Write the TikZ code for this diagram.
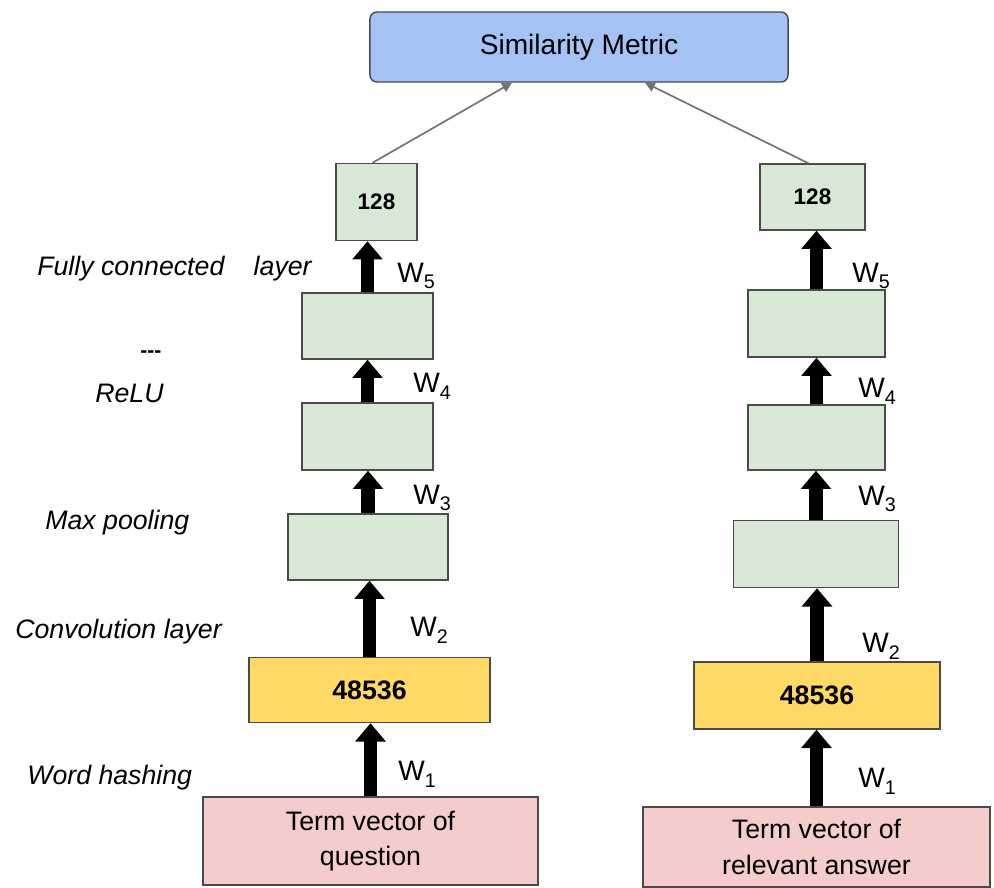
\documentclass[tikz,border=0pt]{standalone}
\usepackage{fontspec}
\setmainfont{Liberation Sans}
\usepackage{tikz}
\usetikzlibrary{arrows.meta}

\definecolor{simblue}{HTML}{A4C2F4}
\definecolor{laygreen}{HTML}{D7E9D5}
\definecolor{hashyellow}{HTML}{FFD966}
\definecolor{termpink}{HTML}{F4CCCC}
\definecolor{boxline}{HTML}{4A4A4A}

\newcommand{\wsub}[1]{W\raisebox{-0.45ex}{\fontsize{14}{14}\selectfont #1}}

\begin{document}
\begin{tikzpicture}[x=0.025cm,y=-0.025cm,
		box/.style={draw=boxline,line width=1pt,inner sep=0pt,align=center,font=\fontsize{19}{25}\selectfont},
		layerbox/.style={box,fill=laygreen},
		fat/.style={line width=9.5pt,-{Triangle[width=21pt,length=13pt]}},
		thin/.style={draw=black!55,line width=1.2pt,-{Triangle[width=7pt,length=7pt]}},
		wlab/.style={anchor=west,inner sep=0pt,font=\fontsize{20}{22}\selectfont},
		side/.style={anchor=west,inner sep=0pt,font=\fontsize{19}{22}\selectfont\itshape}]
		\useasboundingbox (0,0) rectangle (994,888);
		\node[box,fill=simblue,rounded corners=5pt,minimum width=10.45cm,minimum height=1.75cm,font=\fontsize{20}{24}\selectfont] (sim) at (579,47) {Similarity Metric};

		\node[box,fill=termpink,minimum width=8.375cm,minimum height=2.2cm] (qterm) at (370.5,841) {Term vector of\\question};
		\node[box,fill=hashyellow,minimum width=6.025cm,minimum height=1.625cm,font=\fontsize{19}{22}\selectfont\bfseries] (qhash) at (369.5,690) {48536};
		\node[layerbox,minimum width=4cm,minimum height=1.65cm] (qconv) at (368,547) {};
		\node[layerbox,minimum width=3.275cm,minimum height=1.675cm] (qpool) at (367.5,436.5) {};
		\node[layerbox,minimum width=3.275cm,minimum height=1.65cm] (qrelu) at (367.5,326) {};
		\node[layerbox,minimum width=2.025cm,minimum height=1.925cm,font=\fontsize{16}{18}\selectfont\bfseries] (qout) at (376.5,202) {128};

		\node[box,fill=termpink,minimum width=8.675cm,minimum height=2cm] (aterm) at (816.5,847) {Term vector of\\relevant answer};
		\node[box,fill=hashyellow,minimum width=6.15cm,minimum height=1.675cm,font=\fontsize{19}{22}\selectfont\bfseries] (ahash) at (817,695.5) {48536};
		\node[layerbox,minimum width=4.125cm,minimum height=1.675cm] (aconv) at (816,554) {};
		\node[layerbox,minimum width=3.425cm,minimum height=1.625cm] (apool) at (816.5,437.5) {};
		\node[layerbox,minimum width=3.425cm,minimum height=1.675cm] (arelu) at (816.5,323.5) {};
		\node[layerbox,minimum width=2.625cm,minimum height=1.65cm,font=\fontsize{16}{18}\selectfont\bfseries] (aout) at (812.5,197) {128};

		\draw[fat] (qterm.north) -- (qterm.north |- qhash.south);
		\draw[fat] (qhash.north) -- (qhash.north |- qconv.south);
		\draw[fat] (qconv.north) -- (qconv.north |- qpool.south);
		\draw[fat] (qpool.north) -- (qpool.north |- qrelu.south);
		\draw[fat] (qrelu.north) -- (qrelu.north |- qout.south);
		\draw[fat] (aterm.north) -- (aterm.north |- ahash.south);
		\draw[fat] (ahash.north) -- (ahash.north |- aconv.south);
		\draw[fat] (aconv.north) -- (aconv.north |- apool.south);
		\draw[fat] (apool.north) -- (apool.north |- arelu.south);
		\draw[fat] (arelu.north) -- (arelu.north |- aout.south);

		\draw[thin] ([xshift=-0.1cm]qout.north) -- ([xshift=-1.675cm]sim.south);
		\draw[thin] ([xshift=-0.1cm]aout.north) -- ([xshift=1.65cm]sim.south);

		\node[wlab] (qw1) at (398,774) {\wsub{1}};
		\node[wlab] (qw2) at (410,630) {\wsub{2}};
		\node[wlab] (qw3) at (413,498) {\wsub{3}};
		\node[wlab] (qw4) at (413,386) {\wsub{4}};
		\node[wlab] (qw5) at (397,276) {\wsub{5}};
		\node[wlab] (aw1) at (858,781) {\wsub{1}};
		\node[wlab] (aw2) at (862,646) {\wsub{2}};
		\node[wlab] (aw3) at (858,499) {\wsub{3}};
		\node[wlab] (aw4) at (858,391) {\wsub{4}};
		\node[wlab] (aw5) at (852,276) {\wsub{5}};

		\node[side] (fc) at (37,269) {Fully connected\hspace{1.1em}layer};
		\node[side,font=\fontsize{15}{15}\selectfont\bfseries] (dots) at (140,354) {-{}-{}-};
		\node[side] (relu) at (95,393) {ReLU};
		\node[side] (pool) at (45,523) {Max pooling};
		\node[side] (conv) at (15,632) {Convolution layer};
		\node[side] (hash) at (27,778) {Word hashing};
	\end{tikzpicture}
\end{document}
